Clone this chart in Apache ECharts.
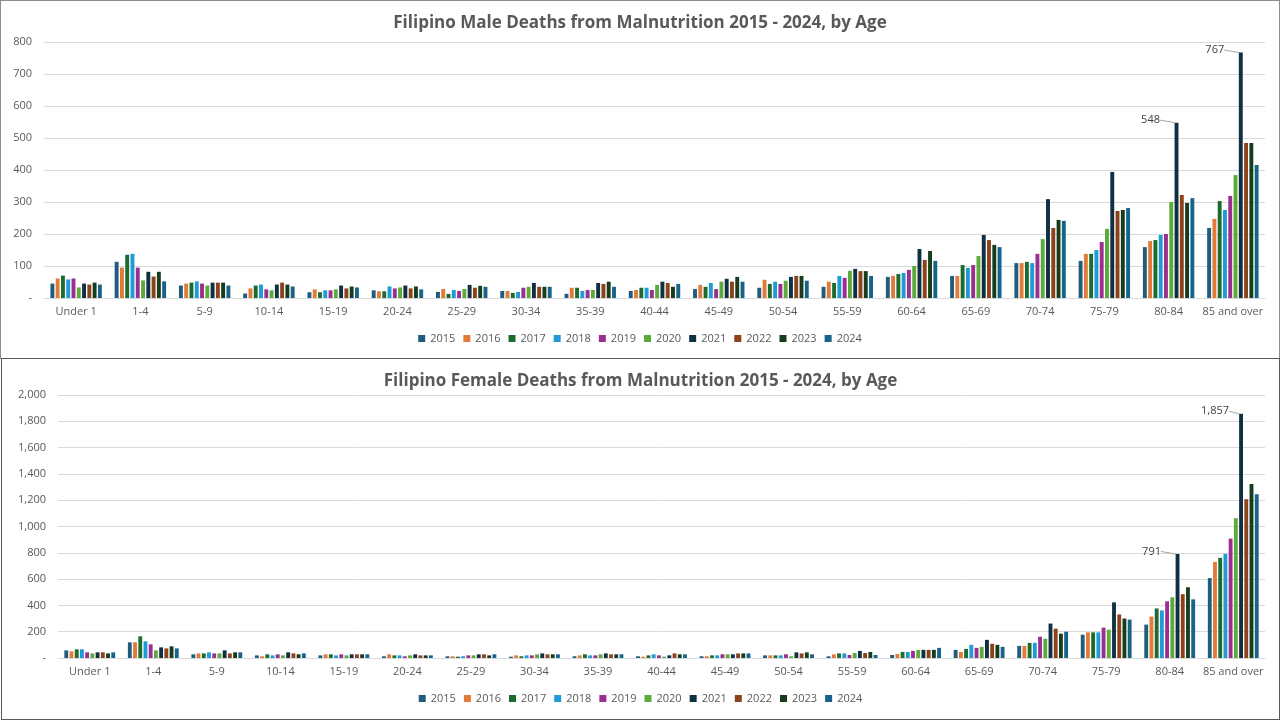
<!DOCTYPE html>
<html>
<head>
<meta charset="utf-8">
<script src="https://cdn.jsdelivr.net/npm/echarts@6/dist/echarts.min.js"></script>
<style>
    body { margin: 0; background: #fff; }
    #male { position: absolute; left: 0; top: 0; width: 1278px; height: 357px; border: 1px solid #8c8c8c; }
    #female { position: absolute; left: 1px; top: 358px; width: 1277px; height: 360px; border: 1px solid #595959; }
</style>
</head>
<body>
<div id="male"></div>
<div id="female"></div>
<script>
var ageGroups = ['Under 1', '1-4', '5-9', '10-14', '15-19', '20-24', '25-29', '30-34', '35-39', '40-44',
    '45-49', '50-54', '55-59', '60-64', '65-69', '70-74', '75-79', '80-84', '85 and over'];
var years = ['2015', '2016', '2017', '2018', '2019', '2020', '2021', '2022', '2023', '2024'];
var colors = ['#1f5c7d', '#e07b39', '#1e6b30', '#1f9bd7', '#9a2f8f', '#5caa3c', '#0f2f42', '#8c421b', '#173d1d', '#17648a'];

// male deaths, one array per year, in ageGroups order
var male2015 = [45, 113, 39, 14, 18, 24, 19, 22, 13, 22, 28, 32, 35, 66, 69, 109, 116, 159, 219];
var male2016 = [61, 95, 45, 30, 27, 21, 28, 22, 32, 25, 41, 57, 51, 69, 69, 109, 138, 178, 247];
var male2017 = [70, 135, 48, 39, 18, 21, 13, 16, 32, 32, 35, 44, 47, 75, 103, 113, 138, 181, 303];
var male2018 = [58, 138, 52, 42, 24, 36, 25, 19, 22, 32, 47, 51, 69, 78, 94, 109, 150, 197, 275];
var male2019 = [61, 95, 45, 27, 24, 30, 22, 32, 25, 25, 28, 44, 63, 88, 103, 138, 175, 200, 319];
var male2020 = [33, 55, 39, 24, 27, 33, 28, 35, 25, 41, 51, 54, 85, 100, 131, 184, 216, 300, 384];
var male2021 = [45, 82, 48, 42, 39, 39, 41, 47, 47, 51, 60, 66, 91, 153, 197, 309, 394, 548, 767];
var male2022 = [42, 67, 48, 48, 30, 30, 32, 35, 44, 47, 51, 69, 84, 119, 181, 219, 272, 322, 484];
var male2023 = [48, 82, 48, 42, 36, 36, 38, 35, 51, 35, 66, 69, 84, 147, 166, 244, 275, 297, 484];
var male2024 = [42, 52, 39, 36, 33, 27, 35, 35, 35, 44, 51, 54, 69, 116, 159, 241, 281, 312, 416];

// female deaths, one array per year, in ageGroups order
var female2015 = [58, 119, 28, 20, 20, 13, 13, 10, 13, 13, 13, 20, 13, 23, 62, 92, 177, 254, 608];
var female2016 = [51, 119, 35, 13, 28, 28, 13, 20, 20, 10, 13, 20, 28, 31, 46, 92, 195, 315, 731];
var female2017 = [66, 165, 35, 28, 28, 20, 10, 13, 28, 20, 20, 20, 35, 46, 69, 115, 195, 377, 762];
var female2018 = [66, 127, 43, 20, 20, 20, 13, 20, 20, 28, 20, 20, 35, 46, 100, 115, 195, 362, 792];
var female2019 = [43, 104, 35, 28, 28, 13, 20, 20, 20, 20, 28, 28, 23, 54, 77, 162, 231, 431, 908];
var female2020 = [35, 58, 35, 20, 20, 20, 20, 28, 28, 10, 28, 13, 38, 62, 85, 146, 215, 462, 1062];
var female2021 = [43, 81, 58, 43, 28, 28, 28, 35, 35, 20, 28, 43, 54, 62, 138, 262, 423, 791, 1857];
var female2022 = [43, 73, 35, 35, 28, 20, 28, 28, 28, 35, 35, 35, 38, 62, 108, 223, 331, 485, 1208];
var female2023 = [35, 89, 43, 28, 28, 20, 20, 28, 28, 28, 35, 43, 46, 62, 100, 185, 300, 538, 1323];
var female2024 = [43, 73, 43, 35, 28, 20, 28, 28, 28, 28, 35, 28, 23, 77, 85, 200, 292, 446, 1246];

// groups where the 2021 bar carries a value label
var labelledGroups = ['80-84', '85 and over'];

var maleRows = [male2015, male2016, male2017, male2018, male2019, male2020, male2021, male2022, male2023, male2024];
var femaleRows = [female2015, female2016, female2017, female2018, female2019, female2020, female2021, female2022, female2023, female2024];

var textColor = '#595959';
var fmt = function (v) { return v === 0 ? '-' : v.toLocaleString('en-US'); };

function buildOption(title, rows, max, interval, gridLeft, gridTop, gridHeight, legendTop) {
    return {
        animation: false,
        color: colors,
        textStyle: { fontFamily: 'Open Sans' },
        title: {
            text: title,
            left: 'center',
            top: 9,
            textStyle: { fontFamily: 'Open Sans', fontSize: 17, fontWeight: 'bold', color: textColor }
        },
        legend: {
            data: years,
            left: 'center',
            top: legendTop,
            icon: 'rect',
            itemWidth: 7,
            itemHeight: 7,
            itemGap: 8,
            textStyle: { fontSize: 11, color: textColor }
        },
        grid: { left: gridLeft, right: 14, top: gridTop, height: gridHeight },
        xAxis: {
            type: 'category',
            data: ageGroups,
            axisTick: { show: false },
            axisLine: { lineStyle: { color: '#d9d9d9' } },
            axisLabel: { color: textColor, fontSize: 11, margin: 8, interval: 0 }
        },
        yAxis: {
            type: 'value',
            min: 0,
            max: max,
            interval: interval,
            axisLabel: { color: textColor, fontSize: 11, margin: 12, formatter: fmt },
            splitLine: { lineStyle: { color: '#d9d9d9' } }
        },
        series: years.map(function (y, i) {
            return {
                name: y,
                type: 'bar',
                barGap: '35%',
                barCategoryGap: '20%',
                data: rows[i].map(function (v, j) {
                    if (y === '2021' && labelledGroups.indexOf(ageGroups[j]) >= 0) {
                        return {
                            value: v,
                            label: {
                                show: true,
                                position: 'top',
                                formatter: function (p) { return p.value.toLocaleString('en-US'); },
                                color: '#404040',
                                fontSize: 11
                            },
                            labelLine: { show: true, lineStyle: { color: '#a6a6a6', width: 1 } }
                        };
                    }
                    return v;
                }),
                labelLayout: { dx: -26, dy: 8 }
            };
        })
    };
}

var maleChart = echarts.init(document.getElementById('male'));
var femaleChart = echarts.init(document.getElementById('female'));

maleChart.setOption(buildOption('Filipino Male Deaths from Malnutrition 2015 - 2024, by Age',
    maleRows, 800, 100, 43, 41, 256, 327));
femaleChart.setOption(buildOption('Filipino Female Deaths from Malnutrition 2015 - 2024, by Age',
    femaleRows, 2000, 200, 56, 36, 263, 329));
</script>
</body>
</html>
